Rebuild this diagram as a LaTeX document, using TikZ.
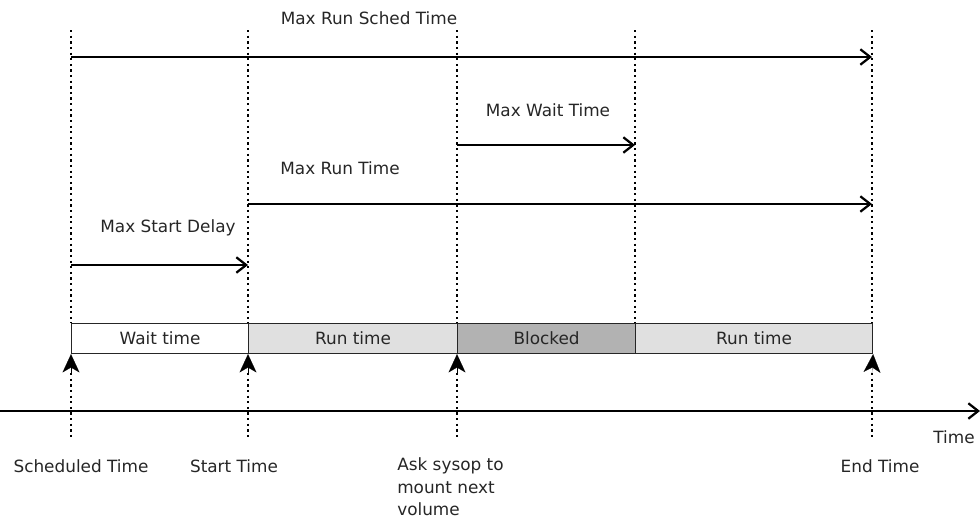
\documentclass[tikz,border=0pt]{standalone}
\usepackage{fontspec}
\setmainfont{DejaVu Sans}
\usetikzlibrary{arrows.meta}
\begin{document}
\begin{tikzpicture}[x=0.025cm,y=-0.025cm,
  font=\fontsize{12}{14}\selectfont,
  guide/.style={line width=1.6pt,dash pattern=on 1.6pt off 2.4pt,black},
  span/.style={line width=1.4pt,-{Straight Barb[length=7pt,width=11pt,line width=1.6pt]}},
  seg/.style={draw=black!85,line width=0.8pt,minimum height=30*0.025cm,inner sep=0pt,anchor=north west},
  up/.style={line width=0.1pt,-{Stealth[length=13pt,width=12pt,inset=3.5pt]}},
  lbl/.style={inner sep=0pt,text=black!85}]
\useasboundingbox (0,0) rectangle (980,520);
% guide coordinates
\foreach \n/\x in {a/71,b/248,c/457,d/635,e/872}{
  \coordinate (\n-top) at (\x,30);
  \coordinate (\n-bar) at (\x,323);
  \coordinate (\n-low) at (\x,373);
  \coordinate (\n-end) at (\x,440);
}
% dotted guides
\foreach \n in {a,b,c,d,e}{\draw[guide] (\n-top) -- (\n-bar);}
\foreach \n in {a,b,c,e}{\draw[guide] (\n-low) -- (\n-end);}
% bar
\node[seg,fill=white,minimum width=177*0.025cm] (wait) at (71,323) {};
\node[seg,fill=black!12,minimum width=209*0.025cm] (run1) at (248,323) {};
\node[seg,fill=black!30,minimum width=178*0.025cm] (blocked) at (457,323) {};
\node[seg,fill=black!12,minimum width=237*0.025cm] (run2) at (635,323) {};
\node[lbl] at (wait.center) {Wait time};
\node[lbl] at (run1.center) {Run time};
\node[lbl] at (blocked.center) {Blocked};
\node[lbl] at (run2.center) {Run time};
% up arrows
\draw[up] (a-low) -- (wait.south west);
\draw[up] (b-low) -- (run1.south west);
\draw[up] (c-low) -- (blocked.south west);
\draw[up] (e-low) -- (run2.south east);
% time axis
\coordinate (t0) at (0,411);
\coordinate (t1) at (980,411);
\draw[span] (t0) -- (t1);
\node[lbl] (time) at (954,437) {Time};
% span arrows
\coordinate (s1a) at (71,57);  \coordinate (s1b) at (872,57);
\coordinate (s2a) at (457,145); \coordinate (s2b) at (635,145);
\coordinate (s3a) at (248,204); \coordinate (s3b) at (872,204);
\coordinate (s4a) at (71,265);  \coordinate (s4b) at (248,265);
\draw[span] (s1a) -- (s1b);
\draw[span] (s2a) -- (s2b);
\draw[span] (s3a) -- (s3b);
\draw[span] (s4a) -- (s4b);
\node[lbl] (l1) at (369,18) {Max Run Sched Time};
\node[lbl] (l2) at (548,110) {Max Wait Time};
\node[lbl] (l3) at (340,168) {Max Run Time};
\node[lbl] (l4) at (168,228) {Max Start Delay};
% bottom labels
\node[lbl] (sched) at (81,466) {Scheduled Time};
\node[lbl] (start) at (234,466) {Start Time};
\node[lbl,anchor=north west,align=left,font=\fontsize{12}{16.3}\selectfont] (ask) at (397,457) {Ask sysop to\\mount next\\volume};
\node[lbl] (endt) at (880,466) {End Time};
\end{tikzpicture}
\end{document}
